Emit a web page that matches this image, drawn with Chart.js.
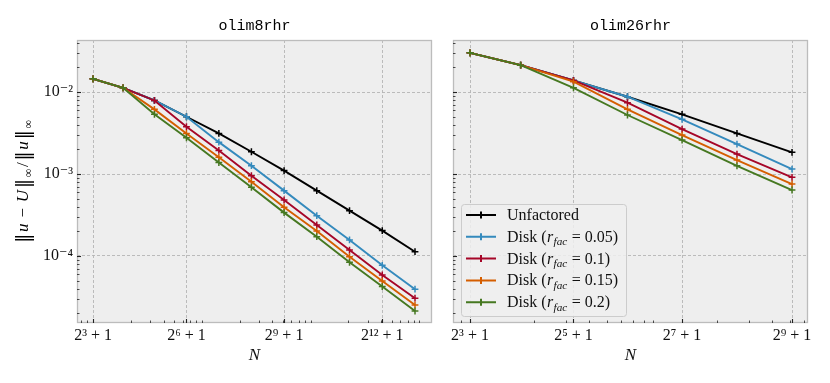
<!DOCTYPE html>
<html>
<head>
<meta charset="utf-8">
<script src="https://cdn.jsdelivr.net/npm/chart.js@4.4.1/dist/chart.umd.min.js"></script>
<style>
  html, body { margin: 0; padding: 0; background: #fff; }
  #wrap { position: relative; width: 830px; height: 383px; overflow: hidden; }
  .panel { position: absolute; top: 0; height: 383px; }
  #left { left: 0; width: 440px; }
  #right { left: 440px; width: 390px; }
</style>
</head>
<body>
<div id="wrap">
  <div class="panel" id="left"><canvas id="c-left"></canvas></div>
  <div class="panel" id="right"><canvas id="c-right"></canvas></div>
</div>
<script>
/* Convergence of the factored solvers: relative max-norm error vs grid size N,
   one panel per stencil. */
(function () {
  'use strict';

  // ------------------------------------------------------------- data ----
  const N_LEFT = [9, 17, 33, 65, 129, 257, 513, 1025, 2049, 4097, 8193];
  const N_RIGHT = [9, 17, 33, 65, 129, 257, 513];

  const SERIES_NAMES = ['Unfactored', 'Disk', 'Disk', 'Disk', 'Disk'];
  const R_FAC = [null, '0.05', '0.1', '0.15', '0.2'];
  const COLORS = ['#000000', '#348ABD', '#A60628', '#D55E00', '#467821'];

  // olim8rhr
  const L_UNFACT = [0.01452, 0.01127, 0.0079, 0.0050, 0.00313, 0.00187, 0.00110, 0.000627, 0.000357, 0.000204, 0.0001127];
  const L_R005 = [0.01452, 0.01127, 0.0079, 0.0050, 0.00245, 0.001265, 0.000627, 0.000310, 0.000157, 0.0000769, 0.0000393];
  const L_R010 = [0.01452, 0.01127, 0.0079, 0.00378, 0.00194, 0.000955, 0.000482, 0.000239, 0.000118, 0.0000586, 0.0000305];
  const L_R015 = [0.01452, 0.01127, 0.00615, 0.00313, 0.00160, 0.000807, 0.000393, 0.000202, 0.0000981, 0.0000495, 0.0000252];
  const L_R020 = [0.01452, 0.01127, 0.00535, 0.00277, 0.00138, 0.000689, 0.000338, 0.000172, 0.0000837, 0.0000423, 0.0000213];

  // olim26rhr
  const R_UNFACT = [0.0301, 0.0213, 0.01387, 0.00877, 0.00535, 0.00313, 0.00184];
  const R_R005 = [0.0301, 0.0213, 0.01387, 0.00877, 0.00465, 0.00232, 0.00115];
  const R_R010 = [0.0301, 0.0213, 0.01387, 0.00741, 0.00354, 0.00175, 0.000912];
  const R_R015 = [0.0301, 0.0213, 0.0134, 0.00615, 0.00299, 0.00148, 0.000755];
  const R_R020 = [0.0301, 0.0213, 0.01128, 0.00525, 0.00260, 0.00126, 0.000638];

  const X_TICKS_LEFT = [9, 65, 513, 4097];
  const X_LABELS_LEFT = ['2³ + 1', '2⁶ + 1', '2⁹ + 1', '2¹² + 1'];
  const X_TICKS_RIGHT = [9, 33, 129, 513];
  const X_LABELS_RIGHT = ['2³ + 1', '2⁵ + 1', '2⁷ + 1', '2⁹ + 1'];
  const Y_TICKS = [1e-4, 1e-3, 1e-2];
  const Y_LABELS = ['10⁻⁴', '10⁻³', '10⁻²'];

  // ------------------------------------------------------------ style ----
  const SERIF = "'Liberation Serif', 'DejaVu Serif', serif";
  const MONO = "'Liberation Mono', 'DejaVu Sans Mono', monospace";
  const Y_RANGE = [1.52e-5, 0.0432];

  // -------------------------------------------------------- helpers ----
  function logMinors(min, max) {
    const out = [];
    for (let d = Math.floor(Math.log10(min)); d <= Math.ceil(Math.log10(max)); d++) {
      for (let m = 2; m <= 9; m++) {
        const v = m * Math.pow(10, d);
        if (v > min && v < max) out.push(v);
      }
    }
    return out;
  }

  // text runs: i = italic, sub = subscript, big = taller delimiter
  const runFont = (r, size) => {
    const s = r.sub ? size * 0.7 : r.big ? size * 1.12 : size;
    return `${r.i ? 'italic ' : ''}${s}px ${r.big ? "'DejaVu Serif', serif" : SERIF}`;
  };
  function runsWidth(ctx, runs, size, gap) {
    return runs.reduce((w, r) => {
      ctx.font = runFont(r, size);
      return w + ctx.measureText(r.t).width + (gap || 0);
    }, -(gap || 0));
  }
  function drawRuns(ctx, runs, x, y, size, gap) {
    ctx.textBaseline = 'alphabetic';
    ctx.textAlign = 'left';
    for (const r of runs) {
      ctx.font = runFont(r, size);
      ctx.fillText(r.t, x, y + (r.sub ? size * 0.22 : r.big ? size * 0.04 : 0));
      x += ctx.measureText(r.t).width + (gap || 0);
    }
  }
  const legendRuns = i => R_FAC[i] === null
    ? [{ t: SERIES_NAMES[i] }]
    : [{ t: SERIES_NAMES[i] + ' (' }, { t: 'r', i: 1 }, { t: 'fac', i: 1, sub: 1 }, { t: ' = ' + R_FAC[i] + ')' }];
  const Y_TITLE_RUNS = [
    { t: '‖', big: 1 }, { t: 'u', i: 1 }, { t: ' − ' }, { t: 'U', i: 1 }, { t: '‖', big: 1 }, { t: '∞', sub: 1 },
    { t: '/' }, { t: '‖', big: 1 }, { t: 'u', i: 1 }, { t: '‖', big: 1 }, { t: '∞', sub: 1 },
  ];

  // ---------------------------------------------------- panel plugin ----
  const panelDecor = {
    id: 'panelDecor',
    beforeDraw(chart) {
      const { ctx, chartArea: a } = chart;
      ctx.save();
      ctx.fillStyle = '#eeeeee';
      ctx.fillRect(a.left, a.top, a.right - a.left, a.bottom - a.top);
      ctx.restore();
    },
    afterDraw(chart, args, o) {
      const { ctx, chartArea: a, scales: { x, y } } = chart;
      ctx.save();
      // frame
      ctx.strokeStyle = '#bcbcbc';
      ctx.lineWidth = 1.3;
      ctx.strokeRect(a.left + 0.5, a.top + 0.5, a.right - a.left - 1, a.bottom - a.top - 1);

      // inward tick marks
      ctx.strokeStyle = '#222';
      const vtick = (v, len, w) => {
        const px = Math.round(x.getPixelForValue(v)) + 0.5;
        ctx.lineWidth = w; ctx.beginPath();
        ctx.moveTo(px, a.bottom); ctx.lineTo(px, a.bottom - len); ctx.stroke();
      };
      const htick = (v, len, w) => {
        const py = Math.round(y.getPixelForValue(v)) + 0.5;
        ctx.lineWidth = w; ctx.beginPath();
        ctx.moveTo(a.left, py); ctx.lineTo(a.left + len, py); ctx.stroke();
      };
      logMinors(x.min, x.max).forEach(v => vtick(v, 2.5, 0.8));
      o.xTicks.forEach(v => vtick(v, 4, 1.1));
      logMinors(y.min, y.max).forEach(v => htick(v, 2.5, 0.8));
      Y_TICKS.forEach(v => htick(v, 4, 1.1));

      // panel title
      ctx.fillStyle = '#000';
      ctx.font = `15px ${MONO}`;
      ctx.textAlign = 'center';
      ctx.textBaseline = 'alphabetic';
      ctx.fillText(o.title, (a.left + a.right) / 2, 30);

      // y axis title
      if (o.yTitle) {
        const size = 17, gap = 1.6;
        const w = runsWidth(ctx, Y_TITLE_RUNS, size, gap);
        ctx.save();
        ctx.translate(28, (a.top + a.bottom) / 2);
        ctx.rotate(-Math.PI / 2);
        drawRuns(ctx, Y_TITLE_RUNS, -w / 2, 0, size, gap);
        ctx.restore();
      }

      // legend (lower left)
      if (o.legend) {
        const size = 16, rowH = 21.8;
        const rows = chart.data.datasets.length;
        const textW = Math.max(...chart.data.datasets.map((_, i) => runsWidth(ctx, legendRuns(i), size, 0.4)));
        const bx = a.left + 8, bh = rows * rowH + 3, by = a.bottom - 7 - bh;
        const bw = 46 + textW + 8;
        ctx.fillStyle = 'rgba(238,238,238,0.85)';
        ctx.strokeStyle = '#cccccc';
        ctx.lineWidth = 1;
        ctx.beginPath();
        ctx.roundRect(bx + 0.5, by + 0.5, bw, bh, 3);
        ctx.fill(); ctx.stroke();
        chart.data.datasets.forEach((ds, i) => {
          const cy = by + 11 + i * rowH;
          ctx.strokeStyle = ds.borderColor;
          ctx.lineWidth = 2;
          ctx.beginPath();
          ctx.moveTo(bx + 5, cy); ctx.lineTo(bx + 35, cy);
          ctx.moveTo(bx + 20, cy - 3.5); ctx.lineTo(bx + 20, cy + 3.5);
          ctx.stroke();
          ctx.fillStyle = '#111';
          drawRuns(ctx, legendRuns(i), bx + 46, cy + 5, size, 0.4);
        });
      }
      ctx.restore();
    },
  };

  // ----------------------------------------------------------- charts ----
  function makeChart(id, cfg) {
    const datasets = cfg.series.map((ys, i) => ({
      label: R_FAC[i] === null ? SERIES_NAMES[i] : `${SERIES_NAMES[i]} (r_fac = ${R_FAC[i]})`,
      data: cfg.n.map((n, j) => ({ x: n, y: ys[j] })),
      borderColor: COLORS[i], backgroundColor: COLORS[i], pointBorderColor: COLORS[i],
      borderWidth: 1.9, pointStyle: 'cross', pointRadius: 3.4, pointHoverRadius: 3.4,
      pointBorderWidth: 1.5, tension: 0, fill: false,
      order: cfg.series.length - i,
    }));
    return new Chart(document.getElementById(id), {
      type: 'line',
      data: { datasets },
      options: {
        responsive: true, maintainAspectRatio: false, animation: false, devicePixelRatio: 1,
        events: [],
        layout: { padding: { top: 40, right: cfg.padRight, bottom: 0, left: 0 } },
        plugins: {
          legend: { display: false }, tooltip: { enabled: false },
          panelDecor: { title: cfg.title, xTicks: cfg.xTicks, yTitle: cfg.yTitle, legend: cfg.legend },
        },
        scales: {
          x: {
            type: 'logarithmic', min: cfg.xRange[0], max: cfg.xRange[1], bounds: 'data',
            afterBuildTicks: s => { s.ticks = cfg.xTicks.map(v => ({ value: v })); },
            afterFit: s => { s.height = 60; },
            grid: { color: '#b4b4b4', lineWidth: 0.9, drawTicks: false, borderDash: [3, 2] },
            border: { display: false, dash: [3, 2] },
            ticks: {
              autoSkip: false, maxRotation: 0, padding: 3, color: '#111',
              font: { family: SERIF, size: 16 },
              callback: v => cfg.xLabels[cfg.xTicks.indexOf(v)],
            },
            title: {
              display: true, text: 'N', color: '#111',
              font: { family: SERIF, size: 17, style: 'italic' },
              padding: { top: 0, bottom: 17 },
            },
          },
          y: {
            type: 'logarithmic', min: Y_RANGE[0], max: Y_RANGE[1], bounds: 'data',
            afterBuildTicks: s => { s.ticks = Y_TICKS.map(v => ({ value: v })); },
            afterFit: s => { s.width = cfg.yWidth; },
            grid: { color: '#b4b4b4', lineWidth: 0.9, drawTicks: false, borderDash: [3, 2] },
            border: { display: false, dash: [3, 2] },
            ticks: {
              display: cfg.yLabels, autoSkip: false, padding: 4, color: '#111',
              font: { family: SERIF, size: 16 },
              callback: v => Y_LABELS[Y_TICKS.indexOf(v)],
            },
          },
        },
      },
      plugins: [panelDecor],
    });
  }

  makeChart('c-left', {
    title: 'olim8rhr', n: N_LEFT, series: [L_UNFACT, L_R005, L_R010, L_R015, L_R020],
    xRange: [6.41, 11740], xTicks: X_TICKS_LEFT, xLabels: X_LABELS_LEFT,
    yWidth: 77, yLabels: true, yTitle: true, legend: false, padRight: 8,
  });
  makeChart('c-right', {
    title: 'olim26rhr', n: N_RIGHT, series: [R_UNFACT, R_R005, R_R010, R_R015, R_R020],
    xRange: [7.27, 627], xTicks: X_TICKS_RIGHT, xLabels: X_LABELS_RIGHT,
    yWidth: 13, yLabels: false, yTitle: false, legend: true, padRight: 22,
  });
})();
</script>
</body>
</html>
